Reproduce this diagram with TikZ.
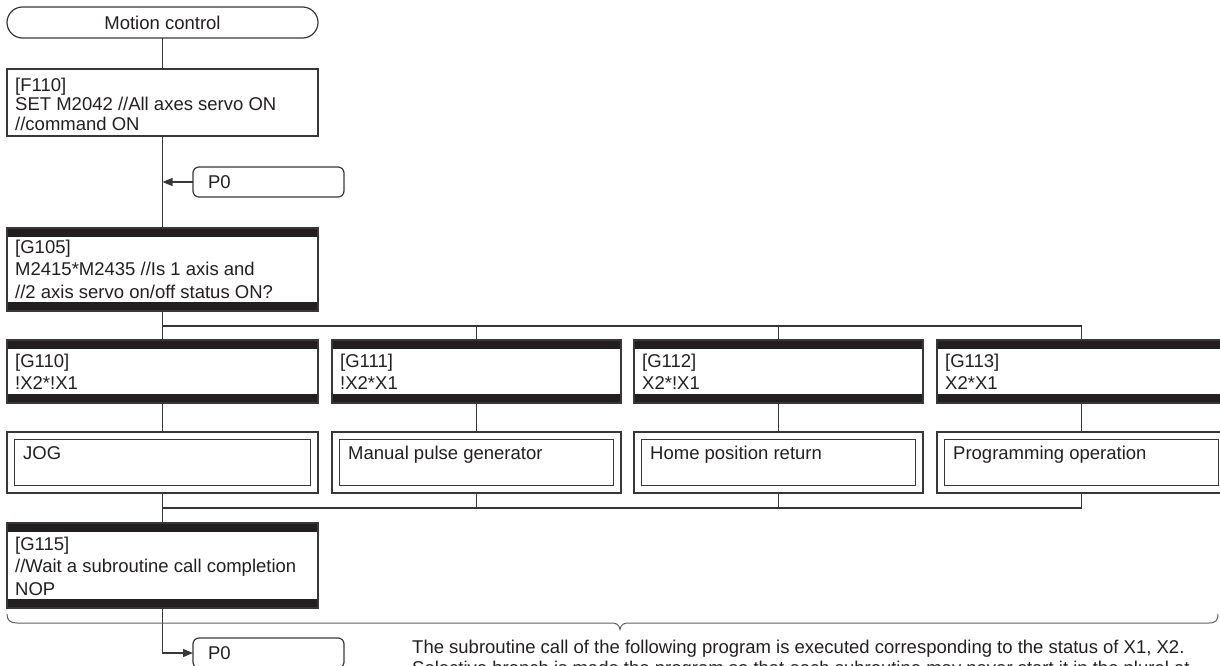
\documentclass[tikz,border=0pt]{standalone}
\usepackage{fontspec}
\setmainfont{Liberation Sans}
\usetikzlibrary{arrows.meta}
\definecolor{ink}{RGB}{35,31,32}
\definecolor{ln}{RGB}{55,55,55}
\definecolor{brc}{RGB}{95,95,95}
\begin{document}
\begin{tikzpicture}[x=1pt,y=-1pt,
  every node/.style={text=ink},
  conn/.style={draw=ln, line width=1.2pt},
  tip/.style={-{Triangle[length=10pt,width=8pt]}},
  term/.style={draw=ln, line width=1.2pt, rectangle, rounded corners=15.5pt, inner sep=0pt, outer sep=0pt,
    minimum width=311pt, minimum height=31pt, font=\fontsize{18.5}{21}\selectfont},
  box/.style={draw=ln, line width=1.2pt, rectangle, inner sep=0pt, outer sep=0pt, anchor=north west},
  gbox/.style={box, path picture={
      \fill[ink] (path picture bounding box.north west) rectangle ([yshift=-9pt]path picture bounding box.north east);
      \fill[ink] (path picture bounding box.south west) rectangle ([yshift=9pt]path picture bounding box.south east);}},
  sub/.style={draw=ln, line width=1.1pt, double=white, double distance=6.4pt, rectangle, inner sep=0pt,
    outer sep=0pt, anchor=north west, minimum height=53.5pt},
  pbox/.style={draw=ln, line width=1.2pt, rectangle, rounded corners=6pt, anchor=north west, outer sep=0pt,
    minimum width=151pt, minimum height=30pt, text width=121pt, inner xsep=15pt, inner ysep=0pt,
    align=left, font=\fontsize{18.5}{21}\selectfont},
  txt/.style={inner sep=0pt, anchor=base west, align=left, font=\fontsize{18.5}{22.5}\selectfont},
  brace/.style={draw=brc, line width=1pt}
]
\useasboundingbox (0,0) rectangle (1220,666);
\clip (0,0) rectangle (1220,666);

% start terminal
\node[term] (mc) at (162.5,22.5) {Motion control};

% F110 (text node anchored at the baseline of its last line)
\node[box, minimum width=311pt, minimum height=67pt] (f110) at (7,69) {};
\node[txt, font=\fontsize{18.5}{19.5}\selectfont] (f110t) at (15,130.5) {[F110]\\SET M2042 //All axes servo ON\\//command ON};

% P0 (entry)
\node[pbox] (p0a) at (193,167) {P0};

% G105
\node[gbox, minimum width=311pt, minimum height=83pt] (g105) at (7,228) {};
\node[txt] (g105t) at (15,298) {[G105]\\M2415*M2435 //Is 1 axis and\\//2 axis servo on/off status ON?};

% G110 - G113
\node[gbox, minimum width=311pt, minimum height=63pt] (g110) at (7,340) {};
\node[gbox, minimum width=289pt, minimum height=63pt] (g111) at (332,340) {};
\node[gbox, minimum width=289pt, minimum height=63pt] (g112) at (634,340) {};
\node[gbox, minimum width=289pt, minimum height=63pt] (g113) at (937,340) {};
\node[txt] (g110t) at (15,389.5) {[G110]\\!X2*!X1};
\node[txt] (g111t) at (340,389.5) {[G111]\\!X2*X1};
\node[txt] (g112t) at (642,389.5) {[G112]\\X2*!X1};
\node[txt] (g113t) at (945,389.5) {[G113]\\X2*X1};

% subroutine boxes
\node[sub, minimum width=303.5pt] (s110) at (10.75,435.75) {};
\node[sub, minimum width=281.5pt] (s111) at (335.75,435.75) {};
\node[sub, minimum width=281.5pt] (s112) at (637.75,435.75) {};
\node[sub, minimum width=281.5pt] (s113) at (940.75,435.75) {};
\node[txt] (s110t) at (23,459) {JOG};
\node[txt] (s111t) at (348,459) {Manual pulse generator};
\node[txt] (s112t) at (650,459) {Home position return};
\node[txt] (s113t) at (953,459) {Programming operation};

% G115
\node[gbox, minimum width=311pt, minimum height=85pt] (g115) at (7,523) {};
\node[txt] (g115t) at (15,595) {[G115]\\//Wait a subroutine call completion\\NOP};

% P0 (jump)
\node[pbox] (p0b) at (193,638) {P0};

% note
\node[txt, font=\fontsize{18.5}{21.5}\selectfont] (note) at (412,674.5)
  {The subroutine call of the following program is executed corresponding to the status of X1, X2.\\
   Selective branch is made the program so that each subroutine may never start it in the plural at};

% connectors
\coordinate (brY) at (0,326);
\coordinate (jnY) at (0,508);
\draw[conn] (mc.south) -- (f110.north);
\draw[conn] (f110.south) -- (g105.north);
\coordinate (ja) at (f110.south |- p0a.west);
\draw[conn, tip] (p0a.west) -- (ja);
\draw[conn] (g105.south) -- (g110.north);
\draw[conn] (g110.north |- brY) -| (g113.north);
\draw[conn] (g111.north |- brY) -- (g111.north);
\draw[conn] (g112.north |- brY) -- (g112.north);
\draw[conn, shorten >=3.8pt] (g110.south) -- (s110.north);
\draw[conn, shorten >=3.8pt] (g111.south) -- (s111.north);
\draw[conn, shorten >=3.8pt] (g112.south) -- (s112.north);
\draw[conn, shorten >=3.8pt] (g113.south) -- (s113.north);
\draw[conn, shorten <=3.8pt] (s110.south) -- (g115.north);
\draw[conn, shorten >=3.8pt] (s110.south |- jnY) -| (s113.south);
\draw[conn, shorten >=3.8pt] (s111.south |- jnY) -- (s111.south);
\draw[conn, shorten >=3.8pt] (s112.south |- jnY) -- (s112.south);
\draw[conn, tip] (g115.south) |- (p0b.west);

% brace
\draw[brace] (7,614) .. controls (7,620) and (10,623) .. (17,623) -- (611,623)
  .. controls (616,623) and (619,624) .. (620,629.5)
  .. controls (621,624) and (624,623) .. (629,623) -- (1209,623)
  .. controls (1216,623) and (1218,620) .. (1218,614);
\end{tikzpicture}
\end{document}
